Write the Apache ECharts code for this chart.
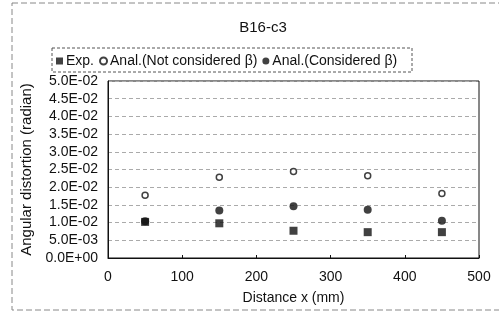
<!DOCTYPE html>
<html lang="en">
<head>
    <meta charset="UTF-8">
    <title>B16-c3</title>
</head>
<script src="https://cdn.jsdelivr.net/npm/echarts@6/dist/echarts.min.js"></script>
<body style="margin:0;background:#fff">
<div id="main" style="height: 318px;width: 499px"></div>
<script type="text/javascript">
    // distance x (mm)
    var xvalue = [50, 150, 250, 350, 450]
    var expData = [0.0102, 0.0098, 0.0077, 0.0073, 0.0073]
    var notConsidered = [0.0177, 0.0228, 0.0244, 0.0232, 0.0182]
    var considered = [0.0104, 0.0134, 0.0146, 0.0136, 0.0105]
    var yTickLabels = ['0.0E+00', '5.0E-03', '1.0E-02', '1.5E-02', '2.0E-02', '2.5E-02',
        '3.0E-02', '3.5E-02', '4.0E-02', '4.5E-02', '5.0E-02']

    function pairs(ys) {
        return xvalue.map(function (x, i) { return [x, ys[i]] })
    }

    var font = 'Liberation Sans, Arial, sans-serif'
    var myChart = echarts.init(document.getElementById("main"))
    var option = {
        animation: false,
        title: {
            text: 'B16-c3',
            left: 258,
            top: 15,
            textAlign: 'center',
            textStyle: {color: '#111', fontSize: 15, fontWeight: 'normal', fontFamily: font}
        },
        legend: {
            left: 56,
            top: 53,
            padding: 0,
            itemWidth: 7,
            itemHeight: 7,
            itemGap: 5,
            textStyle: {color: '#111', fontSize: 14, lineHeight: 16, fontFamily: font, padding: [0, 0, 0, -2]},
            data: [
                {name: 'Exp.', icon: 'rect'},
                {name: 'Anal.(Not considered β)', icon: 'circle'},
                {name: 'Anal.(Considered β)', icon: 'circle'}
            ]
        },
        graphic: [
            {type: 'rect', shape: {x: 52, y: 48, width: 360, height: 24}, silent: true,
                style: {fill: 'none', stroke: '#555', lineWidth: 1, lineDash: [3, 2]}},
            {type: 'rect', shape: {x: 12, y: 3, width: 500, height: 307}, silent: true,
                style: {fill: 'none', stroke: '#888', lineWidth: 1, lineDash: [6, 3]}}
        ],
        grid: {
            left: 108, right: 20, top: 81, bottom: 60,
            show: true, borderColor: '#111', borderWidth: 1
        },
        xAxis: {
            type: 'value',
            min: 0, max: 500, interval: 100,
            name: 'Distance x (mm)',
            nameLocation: 'middle',
            nameGap: 33,
            nameTextStyle: {color: '#111', fontSize: 14, fontFamily: font},
            axisLine: {show: true, lineStyle: {color: '#111'}},
            axisTick: {show: true, inside: true, length: 3, lineStyle: {color: '#111'}},
            axisLabel: {color: '#111', fontSize: 14, fontFamily: font, margin: 12},
            splitLine: {show: false}
        },
        yAxis: {
            type: 'value',
            min: 0, max: 0.05, interval: 0.005,
            name: 'Angular distortion (radian)',
            nameLocation: 'middle',
            nameGap: 64,
            nameTextStyle: {color: '#111', fontSize: 15, fontFamily: font},
            axisLine: {show: true, lineStyle: {color: '#111'}},
            axisTick: {show: false},
            axisLabel: {
                color: '#111', fontSize: 14, fontFamily: font, margin: 10,
                formatter: function (v) { return yTickLabels[Math.round(v / 0.005)] }
            },
            splitLine: {show: true, lineStyle: {color: '#aaa', type: [4, 3], width: 1}}
        },
        series: [{
            name: 'Exp.',
            type: 'scatter',
            symbol: 'rect',
            symbolSize: 8,
            itemStyle: {color: '#111'},
            data: pairs(expData)
        }, {
            name: 'Anal.(Not considered β)',
            type: 'scatter',
            symbol: 'circle',
            symbolSize: 6,
            itemStyle: {color: '#fff', borderColor: '#111', borderWidth: 1.5},
            data: pairs(notConsidered)
        }, {
            name: 'Anal.(Considered β)',
            type: 'scatter',
            symbol: 'circle',
            symbolSize: 8,
            itemStyle: {color: '#111'},
            data: pairs(considered)
        }]
    }
    myChart.setOption(option)
</script>
</body>
</html>
